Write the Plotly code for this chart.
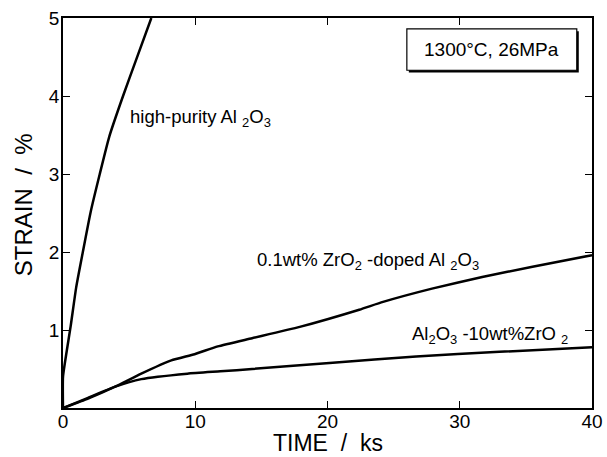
import plotly.graph_objects as go

# Data
t_high = [0, 0.0, 0.3, 0.58, 1.0, 1.5, 2.1, 2.78, 3.5, 4.54, 5.5, 6.68]
s_high = [0, 0.40, 0.75, 1.05, 1.55, 2.0, 2.52, 3.0, 3.48, 4.0, 4.45, 5.0]

t_doped = [0, 1.89, 3.9, 5.92, 8.19, 9.95, 11.7, 14.3, 17.9, 22.4, 24.2, 27.9, 31.7, 35.5, 40]
s_doped = [0, 0.12, 0.27, 0.44, 0.61, 0.69, 0.79, 0.895, 1.04, 1.26, 1.36, 1.53, 1.68, 1.81, 1.96]

t_zr10 = [0, 1.89, 3.9, 5.92, 9.4, 11.9, 14.3, 20.4, 26.7, 33, 40]
s_zr10 = [0, 0.13, 0.27, 0.37, 0.44, 0.47, 0.50, 0.58, 0.66, 0.72, 0.78]

x_ticks = [0, 10, 20, 30, 40]
y_ticks = [1, 2, 3, 4, 5]

FONT = "Liberation Sans, Arial, sans-serif"

fig = go.Figure()
for tx, sy in [(t_high, s_high), (t_doped, s_doped), (t_zr10, s_zr10)]:
    fig.add_trace(go.Scatter(x=tx, y=sy, mode="lines",
                             line=dict(color="black", width=2.5, shape="spline", smoothing=0.5),
                             showlegend=False, cliponaxis=True))

# Condition box with shadow
fig.add_shape(type="rect", xref="x", yref="y", x0=26.15, x1=39.0, y0=4.30, y1=4.83,
              line=dict(width=0), fillcolor="black", layer="above")
fig.add_shape(type="rect", xref="x", yref="y", x0=26.0, x1=38.85, y0=4.33, y1=4.86,
              line=dict(width=1.2, color="black"), fillcolor="white", layer="above")
fig.add_annotation(x=32.4, y=4.595, xref="x", yref="y", text="1300°C, 26MPa",
                   showarrow=False, font=dict(size=19, color="black", family=FONT))

# Curve labels
fig.add_annotation(x=4.9, y=3.72, xref="x", yref="y", xanchor="left",
                   text="high-purity Al <sub>2</sub>O<sub>3</sub>", showarrow=False,
                   font=dict(size=18.5, color="black", family=FONT))
fig.add_annotation(x=14.5, y=1.89, xref="x", yref="y", xanchor="left",
                   text="0.1wt% ZrO<sub>2</sub> -doped Al <sub>2</sub>O<sub>3</sub>", showarrow=False,
                   font=dict(size=18.5, color="black", family=FONT))
fig.add_annotation(x=26.2, y=0.94, xref="x", yref="y", xanchor="left",
                   text="Al<sub>2</sub>O<sub>3</sub> -10wt%ZrO <sub>2</sub>", showarrow=False,
                   font=dict(size=18.5, color="black", family=FONT))

# Axis titles
fig.add_annotation(x=0.5, y=-0.09, xref="paper", yref="paper", yanchor="middle",
                   text="TIME  /  ks", showarrow=False,
                   font=dict(size=23, color="black", family=FONT))
fig.add_annotation(x=-0.0756, y=0.52, xref="paper", yref="paper", xanchor="center", yanchor="middle",
                   text="STRAIN  /  %", textangle=-90, showarrow=False,
                   font=dict(size=24, color="black", family=FONT))

axis_common = dict(showgrid=False, zeroline=False, showline=True, linecolor="black", linewidth=1.5,
                   mirror="ticks", ticks="inside", ticklen=7, tickwidth=1.2, tickcolor="black",
                   automargin=False,
                   tickfont=dict(size=19, color="black", family=FONT))

fig.update_xaxes(range=[0, 40], tickvals=x_ticks, ticktext=[str(v) for v in x_ticks],
                 ticklabelstandoff=-5, **axis_common)
fig.update_yaxes(range=[0, 5], tickvals=y_ticks, ticktext=[str(v) for v in y_ticks],
                 ticklabelstandoff=-2, **axis_common)

fig.update_layout(width=607, height=457, margin=dict(l=63, r=15, t=18, b=49),
                  paper_bgcolor="white", plot_bgcolor="white")

fig.write_html("out.html")
